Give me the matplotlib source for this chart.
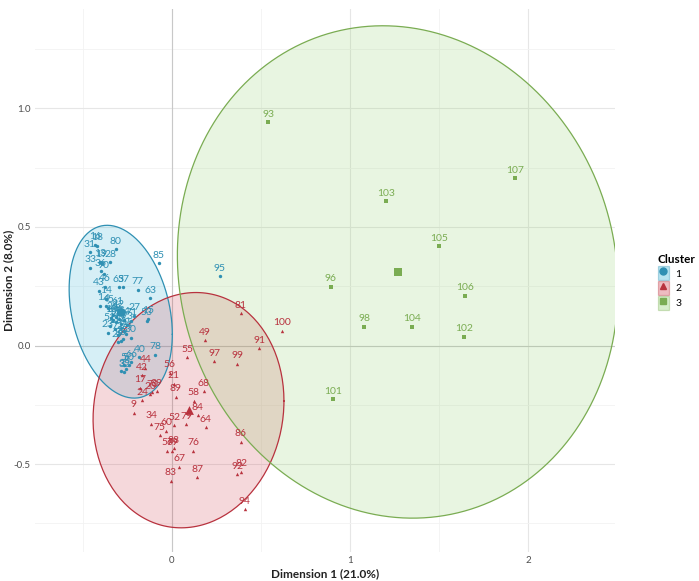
import numpy as np
import matplotlib
matplotlib.use("Agg")
import matplotlib.pyplot as plt
from matplotlib.patches import Patch
from matplotlib.lines import Line2D

plt.rcParams['font.family'] = ['Lato', 'DejaVu Sans']

# cluster 1 (blue circles)
c1_labels = ['18', '16', '31', '80', '13', '19', '28', '33', '90', '36', '43', '46', '14',
             '65', '37', '77', '63', '85', '1', '45', '4', '61', '12', '27', '48', '26',
             '54', '71', '15', '53', '22', '41', '2', '23', '11', '7', '73', '30', '29',
             '35', '25', '78', '5', '66', '40', '8', '32', '3', '10', '47', '50', '51',
             '62', '72', '74', '95']
c1_x = [-0.420, -0.430, -0.463, -0.317, -0.404, -0.396, -0.346, -0.458, -0.383, -0.399,
        -0.411, -0.379, -0.368, -0.299, -0.274, -0.192, -0.121, -0.074, -0.402, -0.357,
        -0.368, -0.306, -0.301, -0.211, -0.317, -0.334, -0.267, -0.228, -0.132, -0.143,
        -0.312, -0.289, -0.295, -0.362, -0.323, -0.284, -0.250, -0.233, -0.306, -0.289,
        -0.278, -0.094, -0.272, -0.228, -0.183, -0.256, -0.267, -0.284, -0.340, -0.329,
        -0.244, -0.351, -0.267, -0.306, -0.256, 0.267]
c1_y = [0.421, 0.426, 0.394, 0.406, 0.353, 0.349, 0.352, 0.329, 0.303, 0.313,
        0.232, 0.248, 0.197, 0.245, 0.245, 0.235, 0.200, 0.347, 0.168, 0.160,
        0.166, 0.151, 0.139, 0.126, 0.122, 0.130, 0.109, 0.105, 0.113, 0.105,
        0.101, 0.092, 0.111, 0.055, 0.071, 0.076, 0.088, 0.034, 0.013, 0.021,
        0.029, -0.039, -0.084, -0.071, -0.050, -0.097, -0.113, -0.109, 0.118, 0.109,
        -0.084, 0.084, 0.063, 0.046, 0.050, 0.293]

# cluster 2 (red triangles)
c2_labels = ['81', '100', '49', '91', '55', '97', '99', '44', '42', '56', '21', '17', '39',
             '20', '24', '89', '68', '58', '9', '84', '34', '52', '79', '64', '60', '75',
             '86', '76', '57', '69', '88', '67', '83', '87', '82', '92', '94', '70']
c2_x = [0.385, 0.619, 0.186, 0.490, 0.087, 0.237, 0.366, -0.149, -0.171, -0.012, 0.010,
        -0.177, -0.087, -0.121, -0.167, 0.021, 0.179, 0.123, -0.215, 0.145, -0.117,
        0.012, 0.080, 0.190, -0.031, -0.070, 0.385, 0.119, -0.027, 0.001, 0.010,
        0.040, -0.008, 0.141, 0.390, 0.366, 0.409, -0.110]
c2_y = [0.136, 0.062, 0.022, -0.011, -0.050, -0.066, -0.077, -0.094, -0.126, -0.115,
        -0.161, -0.178, -0.192, -0.206, -0.230, -0.216, -0.192, -0.232, -0.283, -0.294,
        -0.329, -0.336, -0.331, -0.345, -0.360, -0.378, -0.406, -0.444, -0.444, -0.444,
        -0.433, -0.510, -0.570, -0.556, -0.531, -0.543, -0.689, -0.197]

# cluster 3 (green squares)
c3_labels = ['93', '107', '103', '105', '96', '106', '98', '104', '102', '101']
c3_x = [0.540, 1.926, 1.201, 1.501, 0.892, 1.645, 1.081, 1.351, 1.642, 0.903]
c3_y = [0.942, 0.705, 0.609, 0.419, 0.248, 0.210, 0.080, 0.079, 0.037, -0.226]

colors = ['#2f90b3', '#b8323e', '#7aac52']
fills = ['#34b3d6', '#d1404e', '#8fd06a']
markers = ['o', '^', 's']


def ellipse_points(x, y, level=0.95, npts=200):
    # normal data ellipse, same idea as stat_ellipse(type = "norm")
    pts = np.column_stack([x, y])
    center = pts.mean(axis=0)
    cov = np.cov(pts, rowvar=False)
    m = len(x) - 1
    fq = (m / 2.0) * ((1 - level) ** (-2.0 / m) - 1)  # F(2, m) quantile
    radius = np.sqrt(2 * fq)
    t = np.linspace(0, 2 * np.pi, npts)
    chol = np.linalg.cholesky(cov)
    e = center[:, None] + radius * chol @ np.vstack([np.cos(t), np.sin(t)])
    return e[0], e[1], center


fig = plt.figure(figsize=(6.99, 5.81), dpi=100)
fig.patch.set_facecolor('white')
ax = fig.add_axes([0.050, 0.050, 0.830, 0.935])

clusters = [(c1_x, c1_y, c1_labels), (c2_x, c2_y, c2_labels), (c3_x, c3_y, c3_labels)]

for i, (cx, cy, lab) in enumerate(clusters):
    ex, ey, center = ellipse_points(cx, cy)
    ax.fill(ex, ey, color=fills[i], alpha=0.2, lw=0, zorder=2)
    ax.plot(ex, ey, color=colors[i], lw=0.9, zorder=3)
    ax.scatter(cx, cy, marker=markers[i], s=6, color=colors[i], lw=0, zorder=4)
    for xx, yy, tt in zip(cx, cy, lab):
        ax.annotate(tt, (xx, yy), xytext=(0, 2.5), textcoords='offset points',
                    ha='center', va='bottom', fontsize=7.5, color=colors[i], zorder=5)
    ax.scatter([center[0]], [center[1]], marker=markers[i], s=40, color=colors[i],
               lw=0, zorder=4)

ax.axhline(0, color='#c8c8c8', lw=0.8, zorder=1)
ax.axvline(0, color='#c8c8c8', lw=0.8, zorder=1)

ax.set_xlim(-0.77, 2.49)
ax.set_ylim(-0.87, 1.42)
ax.set_xticks([0, 1, 2])
ax.set_xticklabels(['0', '1', '2'])
ax.set_yticks([-0.5, 0.0, 0.5, 1.0])
ax.set_yticklabels(['-0.5', '0.0', '0.5', '1.0'])
ax.set_xticks([-0.5, 0.5, 1.5], minor=True)
ax.set_yticks([-0.75, -0.25, 0.25, 0.75, 1.25], minor=True)
ax.grid(True, which='major', color='#e6e6e6', lw=0.8, zorder=0)
ax.grid(True, which='minor', color='#f2f2f2', lw=0.6, zorder=0)
ax.set_axisbelow(True)
for s in ax.spines.values():
    s.set_visible(False)
ax.tick_params(which='both', length=0, labelsize=7, labelcolor='#4d4d4d', pad=3)

ax.set_xlabel('Dimension 1 (21.0%)', fontsize=8.5, fontweight='bold', color='#222222',
              labelpad=2)
ax.set_ylabel('Dimension 2 (8.0%)', fontsize=8.5, fontweight='bold', color='#222222')
ax.yaxis.set_label_coords(-0.035, 0.5)

# legend: filled key box with the cluster marker
handles = []
for i in range(3):
    box = Patch(facecolor=fills[i], alpha=0.35, edgecolor=colors[i], lw=0.9)
    mk = Line2D([], [], marker=markers[i], color=colors[i], ls='', markersize=5)
    handles.append((box, mk))
leg = ax.legend(handles, ['1', '2', '3'], title='Cluster', loc='center left',
                bbox_to_anchor=(0.935, 0.515), bbox_transform=fig.transFigure,
                frameon=False, fontsize=7.5, handlelength=1.1, handleheight=1.6,
                labelspacing=0.15, handletextpad=0.6, borderaxespad=0)
leg.get_title().set_fontweight('bold')
leg.get_title().set_fontsize(8.5)
leg._legend_box.align = 'left'

fig.savefig('out.png', dpi=100)
